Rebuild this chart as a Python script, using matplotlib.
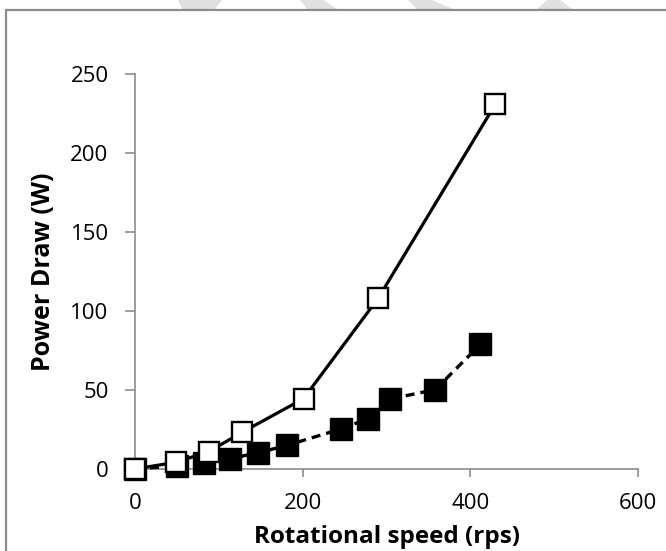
import matplotlib
matplotlib.use('Agg')
import matplotlib.pyplot as plt
from matplotlib.patches import Polygon, Rectangle

# open squares, solid line
speed_open = [0, 49, 88, 128, 201, 290, 430]
power_open = [0, 4.3, 11, 23.3, 44.5, 108, 231]

# filled squares, dashed line
speed_filled = [0, 50, 82, 113, 147, 181, 246, 278, 304, 358, 412]
power_filled = [0, 2, 4, 6.5, 10.3, 14.9, 25.4, 31.9, 44.3, 50.2, 78.8]

x_ticks = [0, 200, 400, 600]
y_ticks = [0, 50, 100, 150, 200, 250]

plt.rcParams['font.family'] = ['Open Sans', 'DejaVu Sans']

W, H = 666, 551
fig = plt.figure(figsize=(W / 100, H / 100), dpi=100)

# faint watermark pieces above the frame
wm = [[(178, 0), (222, 0), (215, 9), (182, 9)],
      [(300, 0), (323, 0), (337, 9), (307, 9)],
      [(408, 0), (432, 0), (453, 9), (417, 9)],
      [(547, 0), (560, 0), (572, 9), (537, 9)]]
for poly in wm:
    pts = [(x / W, 1 - y / H) for x, y in poly]
    fig.patches.append(Polygon(pts, closed=True, transform=fig.transFigure,
                               facecolor='#e0e0e0', edgecolor='none', zorder=-3))

# chart frame (cropped on right and bottom)
fig.patches.append(Rectangle((6 / W, -0.1), 1.2, 1 - 10 / H + 0.1,
                             transform=fig.transFigure, facecolor='white',
                             edgecolor='#8c8c8c', linewidth=1.6, zorder=-2))

ax = fig.add_axes([135 / W, (H - 469) / H, (638 - 135) / W, (469 - 74) / H])
ax.set_facecolor('none')

ax.plot(speed_filled, power_filled, linestyle=(0, (2.7, 1.8)), color='black',
        linewidth=2.4, marker='s', markersize=16.2, markerfacecolor='black',
        markeredgecolor='black', clip_on=False, zorder=3)
ax.plot(speed_open, power_open, linestyle='-', color='black', linewidth=2.3,
        marker='s', markersize=14, markerfacecolor='white',
        markeredgecolor='black', markeredgewidth=1.7, clip_on=False, zorder=4)

ax.set_xlim(0, 600)
ax.set_ylim(0, 250)
ax.set_xticks(x_ticks)
ax.set_yticks(y_ticks)

for s in ['top', 'right']:
    ax.spines[s].set_visible(False)
for s in ['left', 'bottom']:
    ax.spines[s].set_color('#8c8c8c')
    ax.spines[s].set_linewidth(1.2)

ax.tick_params(axis='y', direction='out', length=7, width=1.2, color='#8c8c8c',
               pad=12, labelsize=16)
ax.tick_params(axis='x', direction='out', length=5.5, width=1.2, color='#8c8c8c',
               pad=12, labelsize=16)

ax.set_xlabel('Rotational speed (rps)', fontsize=17.5, fontweight='bold', labelpad=8)
ax.set_ylabel('Power Draw (W)', fontsize=18, fontweight='bold', labelpad=10)

fig.savefig('out.png', dpi=100)
